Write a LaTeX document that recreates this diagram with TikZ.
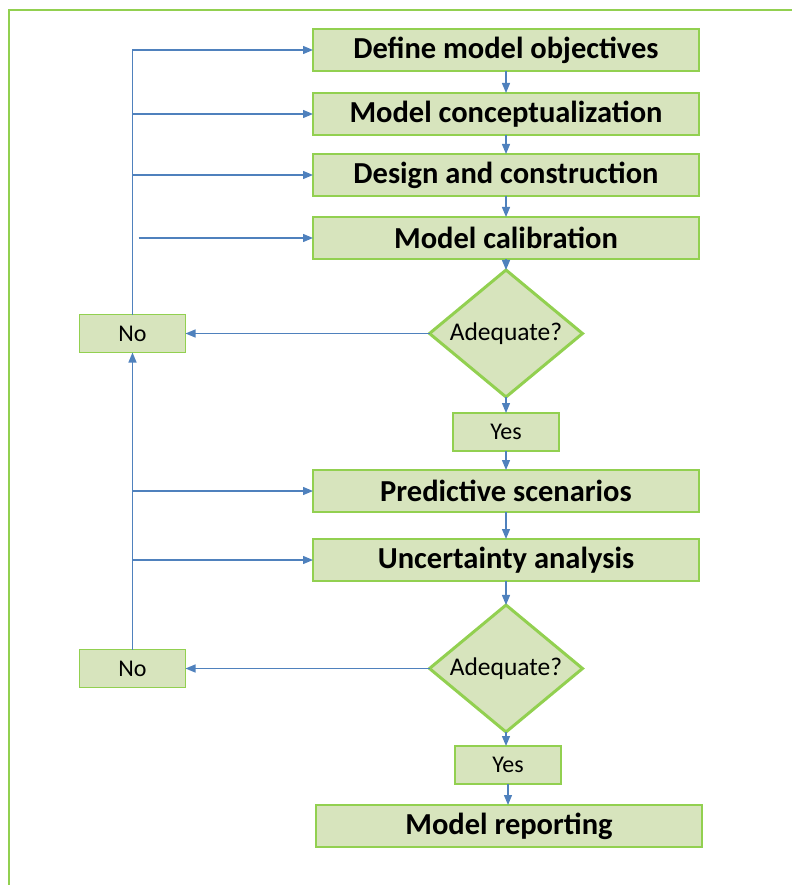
\documentclass[tikz,border=0pt]{standalone}
\usepackage{fontspec}
\setmainfont{Carlito}
\usepackage{tikz}
\usetikzlibrary{shapes, arrows, positioning, calc, shapes.geometric, arrows.meta}

\definecolor{boxfill}{RGB}{215,228,189}
\definecolor{boxline}{RGB}{146,208,80}
\definecolor{flowline}{RGB}{79,129,189}

\begin{document}
\begin{tikzpicture}[
        x=1pt, y=1pt,
        stepbox/.style={
            rectangle, draw=boxline, fill=boxfill, line width=1.5pt,
            minimum width=386pt, minimum height=42pt, inner sep=0pt, outer sep=0pt,
            font=\fontsize{30.5}{36}\selectfont\bfseries
        },
        answerbox/.style={
            rectangle, draw=boxline, fill=boxfill, line width=1.5pt,
            minimum width=106pt, minimum height=38pt, inner sep=0pt, outer sep=0pt,
            font=\fontsize{24}{28}\selectfont
        },
        decision/.style={
            diamond, aspect=1.2, draw=boxline, fill=boxfill, line width=3pt,
            minimum width=153pt, minimum height=127pt, inner sep=0pt, outer sep=0pt,
            font=\fontsize{25.5}{30}\selectfont
        },
        arrow/.style={-{Triangle[length=10pt, width=8pt]}, draw=flowline, line width=1.3pt}
    ]
        \useasboundingbox (0,0) rectangle (792,-885);
        \draw[boxline, line width=2.5pt] (9,-885) -- (9,-10) -- (792,-10);

        \node[stepbox] (objectives) at (506,-50) {Define model objectives};
        \node[stepbox, below=22pt of objectives] (concept) {Model conceptualization};
        \node[stepbox, below=19pt of concept] (design) {Design and construction};
        \node[stepbox, below=21pt of design] (calib) {Model calibration};
        \node[decision, below=11pt of calib] (check1) {\raisebox{3pt}{Adequate?}};
        \node[answerbox, below=16pt of check1] (yes1) {Yes};
        \node[answerbox, left=244pt of check1] (no1) {No};

        \node[stepbox, below=19pt of yes1] (predict) {Predictive scenarios};
        \node[stepbox, below=27pt of predict] (uncert) {Uncertainty analysis};
        \node[decision, below=24pt of uncert] (check2) {\raisebox{3pt}{Adequate?}};
        \node[answerbox, below=14pt of check2, xshift=2pt] (yes2) {Yes};
        \node[answerbox, left=244pt of check2] (no2) {No};
        \node[stepbox, below=21pt of yes2, xshift=1pt] (report) {Model reporting};

        % main flow
        \draw[arrow] (objectives) -- (concept);
        \draw[arrow] (concept) -- (design);
        \draw[arrow] (design) -- (calib);
        \draw[arrow] (calib) -- (check1);
        \draw[arrow] (check1) -- (yes1);
        \draw[arrow] (yes1) -- (predict);
        \draw[arrow] (predict) -- (uncert);
        \draw[arrow] (uncert) -- (check2);
        \draw[arrow] (check2.south) -- (yes2.north -| check2.south);
        \draw[arrow] (yes2) -- (report.north -| yes2.south);

        % feedback loops
        \draw[arrow] (check1.west) -- (no1.east);
        \draw[arrow] (check2.west) -- (no2.east);
        \draw[arrow] (no1.north) |- (objectives.west);
        \draw[arrow] (no1.north |- concept.west) -- (concept.west);
        \draw[arrow] (no1.north |- design.west) -- (design.west);
        \coordinate (calibstart) at ($(no1.north |- calib.west)+(6,0)$);
        \draw[arrow] (calibstart) -- (calib.west);
        \draw[arrow] (no2.north) -- (no1.south);
        \draw[arrow] (no2.north |- predict.west) -- (predict.west);
        \draw[arrow] (no2.north |- uncert.west) -- (uncert.west);
    \end{tikzpicture}
\end{document}
